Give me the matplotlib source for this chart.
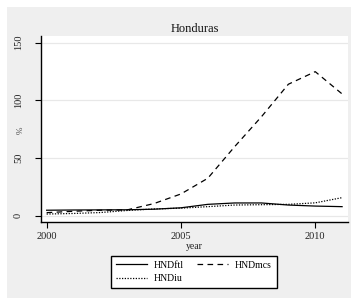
"""
Honduras: fixed lines, mobile subscriptions, internet users (% )
"""

import matplotlib
matplotlib.use('Agg')
import matplotlib.pyplot as plt
from matplotlib.patches import Rectangle

plt.rcParams['font.family'] = ['Liberation Serif', 'DejaVu Serif']

years = [2000, 2001, 2002, 2003, 2004, 2005, 2006, 2007, 2008, 2009, 2010, 2011]
hnd_ftl = [4.7, 4.9, 5.0, 5.1, 5.6, 6.8, 9.8, 11.0, 11.0, 9.2, 8.3, 7.8]
hnd_mcs = [2.6, 3.8, 4.7, 5.0, 10.5, 18.8, 32.4, 59.8, 85.8, 113.9, 124.8, 105.5]
hnd_iu = [1.4, 1.9, 2.7, 4.5, 5.8, 6.5, 7.8, 9.2, 9.5, 9.8, 11.1, 15.6]

x_ticks = [2000, 2005, 2010]
y_ticks = [0, 50, 100, 150]

W, H = 351, 300
fig = plt.figure(figsize=(W / 100, H / 100), dpi=100)
fig.patch.set_facecolor('white')
fig.patches.append(Rectangle((7 / W, 2 / H), (W - 7) / W, (298 - 7) / H,
                             transform=fig.transFigure, facecolor='#efefef',
                             edgecolor='none', zorder=-10))

ax = fig.add_axes([41 / W, (H - 222) / H, (348 - 41) / W, (222 - 36) / H])
ax.set_facecolor('white')

lw = 0.9
l1, = ax.plot(years, hnd_ftl, color='black', lw=lw, ls='-', label='HNDftl')
l2, = ax.plot(years, hnd_mcs, color='black', lw=lw, ls=(0, (4.5, 3.5)), label='HNDmcs')
l3, = ax.plot(years, hnd_iu, color='black', lw=lw, ls=(0, (1, 1.2)), label='HNDiu')

ax.set_xlim(1999.79, 2011.22)
ax.set_ylim(-5.5, 155.7)
ax.set_xticks(x_ticks)
ax.set_yticks(y_ticks)
ax.yaxis.grid(True, color='#e8e8e8', lw=0.9)
ax.set_axisbelow(True)

for s in ['top', 'right']:
    ax.spines[s].set_visible(False)
for s in ['left', 'bottom']:
    ax.spines[s].set_linewidth(1.0)

ax.tick_params(axis='both', direction='out', length=4, width=0.8,
               labelsize=7.5, colors='black', labelcolor='#222222')
ax.tick_params(axis='y', pad=9)
ax.tick_params(axis='x', pad=3)
for lab in ax.get_yticklabels():
    lab.set_rotation(90)
    lab.set_va('center')

ax.set_title('Honduras', fontsize=9, color='#111111', pad=3)
ax.set_xlabel('year', fontsize=7, color='#222222', labelpad=1)
fig.text(21 / W, 1 - 130 / H, '%', fontsize=6.5, color='#444444',
         rotation=90, ha='center', va='center')

leg = fig.legend([l1, l3, l2], ['HNDftl', 'HNDiu', 'HNDmcs'], ncol=2,
                 loc='center', bbox_to_anchor=(194 / W, 1 - 272 / H),
                 fontsize=7, frameon=True, fancybox=False, framealpha=1,
                 edgecolor='black', facecolor='white', handlelength=3.2,
                 handletextpad=0.7, columnspacing=1.3, labelspacing=0.45,
                 borderpad=0.5)
leg.get_frame().set_linewidth(1.0)

plt.savefig('out.png', dpi=100)
